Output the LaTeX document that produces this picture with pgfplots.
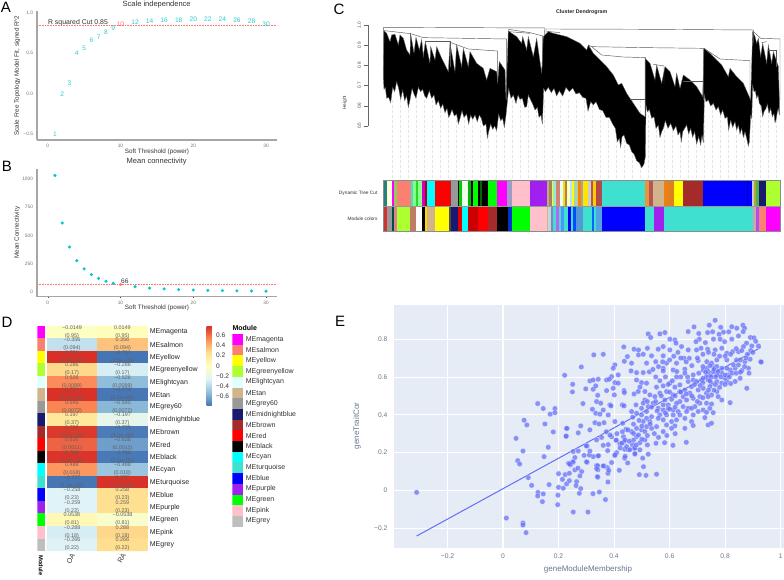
\documentclass[border=0pt]{standalone}
\usepackage{fontspec}
\setmainfont{Liberation Sans}
\usepackage{pgfplots}
\pgfplotsset{compat=1.18}
\pgfplotsset{/pgf/number format/assume math mode=true}
\newcommand{\fs}[1]{\fontsize{#1}{#1}\selectfont}
\definecolor{Mmagenta}{HTML}{FF00FF}\definecolor{Msalmon}{HTML}{FA8072}\definecolor{Myellow}{HTML}{FFFF00}
\definecolor{Mgreenyellow}{HTML}{ADFF2F}\definecolor{Mlightcyan}{HTML}{E0FFFF}\definecolor{Mtan}{HTML}{D2B48C}
\definecolor{Mgrey60}{HTML}{999999}\definecolor{Mmidnightblue}{HTML}{191970}\definecolor{Mbrown}{HTML}{A52A2A}
\definecolor{Mred}{HTML}{FF0000}\definecolor{Mblack}{HTML}{000000}\definecolor{Mcyan}{HTML}{00FFFF}
\definecolor{Mturquoise}{HTML}{40E0D0}\definecolor{Mblue}{HTML}{0000FF}\definecolor{Mpurple}{HTML}{A020F0}
\definecolor{Mgreen}{HTML}{00FF00}\definecolor{Mpink}{HTML}{FFC0CB}\definecolor{Mgrey}{HTML}{BEBEBE}
\definecolor{tealt}{HTML}{2ECBCB}\definecolor{tealm}{HTML}{00C8D0}\definecolor{redt}{HTML}{F8766D}
\definecolor{plotbg}{HTML}{E5ECF6}\definecolor{plotm}{HTML}{636EFA}\definecolor{plott}{HTML}{667790}
\pgfplotsset{
 ggstyle/.style={anchor=south west,scale only axis,width=240pt,
  axis x line*=bottom,axis y line*=left,axis line style={draw=black!35,line width=1.1pt,-},
  tick align=outside,major tick length=1.5pt,tick style={black!70,line width=.4pt},
  tick label style={font=\fs{4.8},text=black!55},
  xmin=-1.47,xmax=31.5,xtick={0,10,20,30},xticklabels={0,10,20,30},
  x tick label style={yshift=1pt},y tick label style={xshift=1pt}},
 numlab/.style={draw=none,mark=none,nodes near coords,point meta=explicit symbolic,
  every node near coord/.append style={anchor=center,inner sep=0pt,font=\fs{6.6},text=#1}}
}
\newcommand{\seg}[4]{\addplot[fill=#4,draw=none] coordinates {(#2,#1)(#3,#1)(#3,#1+1)(#2,#1+1)} -- cycle;}
\newcommand{\rr}[3]{\addplot[fill=#3,draw=none] coordinates {(0,#1)(1,#1)(1,#2)(0,#2)} -- cycle;}
\newcommand{\swatches}{%
\rr{0}{1}{Mmagenta}\rr{1}{2}{Msalmon}\rr{2}{3}{Myellow}\rr{3}{4}{Mgreenyellow}\rr{4}{5}{Mlightcyan}\rr{5}{6}{Mtan}%
\rr{6}{7}{Mgrey60}\rr{7}{8}{Mmidnightblue}\rr{8}{9}{Mbrown}\rr{9}{10}{Mred}\rr{10}{11}{Mblack}\rr{11}{12}{Mcyan}%
\rr{12}{13}{Mturquoise}\rr{13}{14}{Mblue}\rr{14}{15}{Mpurple}\rr{15}{16}{Mgreen}\rr{16}{17}{Mpink}\rr{17}{18}{Mgrey}}
\begin{document}
\begin{tikzpicture}[x=1pt,y=1pt]
\path[use as bounding box,fill=white] (0,0) rectangle (784,580);
% ---------- letters
\foreach \l/\a/\b in {A/6/572.5,B/7/413.5,C/339/571,D/7/257.5,E/340/258.5}
  \node[font=\fs{15}] at (\a,\b) {\l};
% ---------- A
\begin{axis}[ggstyle,at={(37pt,440pt)},height=129pt,ymin=-0.578,ymax=1.027,
  ytick={-0.5,0,0.5,1},yticklabels={−0.5,0.0,0.5,1.0},clip=false]
\addplot[redt,densely dotted,line width=.6pt,forget plot] coordinates {(-1.47,0.85)(31.5,0.85)};
\addplot[numlab=tealt] table[meta=t] {
x y t
1 -0.507 1
2 -0.012 2
3 0.133 3
4 0.496 4
5 0.558 5
6 0.665 6
7 0.70 7
8 0.765 8
9 0.817 9
12 0.892 12
14 0.90 14
16 0.917 16
18 0.917 18
20 0.93 20
22 0.92 22
24 0.92 24
26 0.91 26
28 0.905 28
30 0.864 30
};
\addplot[numlab=redt] table[meta=t] {
x y t
10 0.867 10
};
\end{axis}
\node[font=\fs{7.5},text=black!80] at (156.7,575) {Scale independence};
\node[font=\fs{6.3},text=black!80,rotate=90] at (17.3,504.5) {Scale Free Topology Model Fit, signed R\textasciicircum 2};
\node[font=\fs{6.3},text=black!80] at (157,428) {Soft Threshold (power)};
\node[font=\fs{6.9},text=black!80] at (78,557.3) {R squared Cut 0.85};
% ---------- B
\begin{axis}[ggstyle,at={(37pt,283.3pt)},height=127.4pt,ymin=-41.6,ymax=1086,
  ytick={0,250,500,750,1000},yticklabels={0,250,500,750,1000}]
\addplot[redt,densely dotted,line width=.6pt,forget plot] coordinates {(-1.47,66)(31.5,66)};
\addplot[only marks,mark=*,mark size=1.35pt,mark options={fill=tealm,draw=tealm}] coordinates {
(1,1032)(2,610)(3,398)(4,277)(5,204)(6,153)(7,121)(8,95)(9,77)(12,47)(14,35)(16,27)(18,21)(20,17)(22,14)(24,12)(26,10)(28,9)(30,7)};
\addplot[only marks,mark=*,mark size=1.35pt,mark options={fill=redt,draw=redt}] coordinates {(10,66)};
\node[font=\fs{6.6},text=black!80] at (axis cs:10.6,91) {66};
\end{axis}
\node[font=\fs{7.5},text=black!80] at (156.7,418) {Mean connectivity};
\node[font=\fs{6.3},text=black!80,rotate=90] at (17.3,347.3) {Mean Connectivity};
\node[font=\fs{6.3},text=black!80] at (157,272.3) {Soft Threshold (power)};
% ---------- C dendrogram (drawn on the height axis)
\begin{axis}[anchor=south west,at={(368.33pt,400pt)},scale only axis,width=415.67pt,height=158.7pt,
  xmin=85,xmax=1332,ymin=0.23,ymax=1.02,y filter/.expression={1-(y-76)/602.4},
  separate axis lines,x axis line style={draw=none},y axis line style={draw=none},
  xtick=\empty,ytick={0.5,0.6,0.7,0.8,0.9,1},yticklabels={0.5,0.6,0.7,0.8,0.9,1.0},
  ytick pos=left,tick align=outside,major tick length=4pt,tick style={black!60,line width=.3pt},
  yticklabel style={rotate=90,anchor=south,font=\fs{4.6},text=black!70,yshift=0pt},clip=false]
\addplot[black!60,line width=.3pt,forget plot] coordinates {(85,76)(85,377)};
\pgfplotsinvokeforeach{155,179,203,227,251,275,299,323,347,371,395,419,443,467,491,515,539,563,588,612,636,660,684,708,732,756,780,804,828,852,876,900,924,948,972,996,1020,1044,1068,1092,1116,1140,1165,1189,1213,1237,1261,1285,1309}{
 \addplot[black!11,densely dashed,line width=.3pt,forget plot] coordinates {(#1,300)(#1,538)};
}
\addplot[fill=black,draw=black!60,line width=.35pt,forget plot] coordinates {
(132,92)(140,100)(150,125)(155,105)(165,103)(175,135)(180,105)(190,115)(200,150)(210,165)(212,102)(222,160)(228,112)(238,150)(245,118)(250,170)(256,125)(270,190)(272,140)(285,180)(290,140)(305,175)(325,215)(330,130)(345,215)(350,135)(365,200)(370,145)(385,200)(390,155)(410,190)(430,205)(440,240)(450,205)(470,215)(473,250)(478,185)(495,210)(498,300)
(505,92)(515,100)(530,110)(545,130)(548,110)(560,150)(565,110)(580,170)(590,115)(605,220)(610,110)(625,95)(640,100)(660,105)(680,110)(700,120)(720,130)(740,150)(745,135)(760,160)(775,175)(800,200)(820,225)(835,255)(845,250)(860,280)(880,310)(900,340)(915,350)(915,175)(930,190)(945,240)(950,195)(965,250)(975,200)(990,215)(1005,260)(1010,220)(1020,265)(1030,225)(1050,240)(1070,260)(1088,290)(1092,145)(1110,160)(1130,180)(1145,195)(1165,230)(1170,205)(1190,230)(1210,250)(1232,300)(1238,95)(1245,110)(1250,130)(1255,115)(1262,170)(1268,130)(1280,190)(1285,135)(1295,190)(1300,155)(1315,200)(1318,300)
(1318,345)(1315,325)(1312,335)(1308,360)(1305,368)(1302,340)(1297,350)(1292,325)(1287,340)(1282,312)(1278,325)(1272,335)(1268,350)(1264,318)(1258,310)(1254,285)(1250,295)(1246,272)(1242,275)(1238,255)(1235,355)(1232,345)(1228,425)(1225,438)(1220,415)(1215,395)(1210,412)(1205,385)(1200,402)(1195,375)(1190,390)(1185,365)(1178,382)(1172,360)(1166,390)(1162,350)(1155,355)(1148,330)(1142,345)(1135,320)(1128,330)(1120,310)(1112,318)(1105,300)(1098,305)(1093,285)(1090,428)(1086,405)(1082,435)(1076,410)(1070,432)(1064,395)(1058,412)(1052,385)(1046,402)(1040,375)(1034,385)(1028,395)(1024,425)(1020,395)(1014,405)(1008,378)(1000,392)(992,370)(984,385)(976,362)(970,385)(965,395)(960,412)(955,375)(948,385)(942,350)(935,355)(928,328)(922,335)(918,315)(916,470)(912,492)(905,503)(898,488)(890,482)(882,462)(875,455)(868,435)(860,430)(852,405)(846,410)(842,442)(838,415)(832,425)(826,385)(818,372)(808,352)(798,352)(788,332)(778,328)(768,305)(760,315)(752,305)(748,320)(744,333)(738,295)(728,292)(718,278)(708,282)(698,264)(688,275)(678,262)(668,288)(658,272)(650,288)(642,265)(634,278)(625,262)(616,275)(611,265)(607,372)(603,345)(597,352)(592,322)(585,330)(578,312)(571,298)(565,285)(560,320)(554,322)(547,295)(540,298)(534,285)(528,310)(520,285)(513,295)(506,265)(498,345)(493,382)(488,355)(482,362)(476,342)(470,392)(464,378)(458,388)(452,372)(446,395)(442,414)(438,372)(430,378)(424,355)(418,345)(412,365)(405,345)(398,358)(392,345)(386,372)(380,342)(372,352)(366,332)(360,355)(355,372)(350,342)(343,348)(336,328)(330,345)(326,352)(321,325)(315,338)(308,312)(302,325)(295,302)(288,315)(282,285)(275,295)(268,272)(260,295)(254,288)(248,268)(242,275)(235,262)(228,295)(222,282)(216,265)(210,300)(205,322)(200,288)(194,302)(188,270)(182,298)(176,265)(170,245)(164,275)(158,262)(152,308)(146,292)(140,295)(136,262)(132,268)(130,230)
} -- cycle;
\addplot[black!65,line width=.45pt,forget plot] coordinates {(130,230)(131,82)(615,84)(612,110)};
\addplot[black!65,line width=.45pt,forget plot] coordinates {(133,92)(212,101)(212,130)};
\addplot[black!65,line width=.45pt,forget plot] coordinates {(212,101)(250,113)(500,117)(500,300)};
\addplot[black!65,line width=.45pt,forget plot] coordinates {(255,125)(330,125)(330,200)};
\addplot[black!65,line width=.45pt,forget plot] coordinates {(330,127)(385,147)(472,153)(472,240)};
\addplot[black!65,line width=.45pt,forget plot] coordinates {(505,88)(570,98)(608,108)(608,200)};
\addplot[black!65,line width=.45pt,forget plot] coordinates {(505,95)(570,100)};
\addplot[black!65,line width=.45pt,forget plot] coordinates {(618,100)(618,87)(930,88)(1240,90)(1240,130)};
\addplot[black!65,line width=.45pt,forget plot] coordinates {(620,94)(660,98)};
\addplot[black!65,line width=.45pt,forget plot] coordinates {(745,135)(755,140)(920,143)(1090,145)(1090,300)};
\addplot[black!65,line width=.45pt,forget plot] coordinates {(755,140)(785,165)(850,171)(917,173)(917,350)};
\addplot[black!65,line width=.45pt,forget plot] coordinates {(870,298)(915,298)};
\addplot[black!65,line width=.45pt,forget plot] coordinates {(1030,243)(1090,243)};
\addplot[black!65,line width=.45pt,forget plot] coordinates {(940,193)(972,198)(972,250)};
\addplot[black!65,line width=.45pt,forget plot] coordinates {(1092,145)(1140,177)(1230,182)(1230,300)};
\addplot[black!65,line width=.45pt,forget plot] coordinates {(1240,95)(1262,115)(1320,117)(1320,300)};
\addplot[black!65,line width=.45pt,forget plot] coordinates {(1265,128)(1280,125)};
\addplot[black!65,line width=.45pt,forget plot] coordinates {(1285,152)(1310,152)(1310,200)};
\end{axis}
\node[font=\bfseries\fs{5.3},text=black!85] at (581.7,568.3) {Cluster Dendrogram};
\node[font=\fs{4.8},text=black!75,rotate=90] at (345,477.3) {Height};
% ---------- C colour strips
\begin{axis}[anchor=south west,at={(383.3pt,348.3pt)},scale only axis,width=397.4pt,height=51.7pt,
  xmin=130,xmax=1322,ymin=0,ymax=2,xtick=\empty,ytick=\empty,axis on top,
  axis line style={draw=black!45,line width=.5pt}]
% top row: Dynamic Tree Cut
\seg{1}{130}{140}{teal!70!gray}\seg{1}{140}{156}{Myellow!15}\seg{1}{156}{162}{Mmagenta}\seg{1}{162}{172}{Mtan!70!green}
\seg{1}{172}{212}{Msalmon}\seg{1}{212}{220}{Mturquoise}\seg{1}{220}{228}{green!50}\seg{1}{228}{235}{Mgreen!70!gray}\seg{1}{235}{245}{green!45}
\seg{1}{245}{255}{Mmagenta!80!black}\seg{1}{255}{262}{Mred!70!black}\seg{1}{262}{285}{Mcyan}\seg{1}{285}{330}{Mred}\seg{1}{330}{332}{Mbrown}
\seg{1}{332}{354}{Mgrey60}\seg{1}{354}{358}{Mblack}\seg{1}{358}{365}{Mgreen!80!black}\seg{1}{365}{385}{green!8}\seg{1}{385}{392}{Mgreen!70!black}
\seg{1}{392}{398}{Mblack}\seg{1}{398}{414}{Mgreen}\seg{1}{414}{420}{Mblack}\seg{1}{420}{425}{green!40!black}\seg{1}{425}{444}{Mblack}
\seg{1}{444}{472}{Mgreen}\seg{1}{472}{502}{Mmagenta}\seg{1}{502}{516}{gray!70!blue!60}\seg{1}{516}{570}{Mpink}\seg{1}{570}{620}{Mpurple}
\seg{1}{620}{628}{Mtan!80!gray}\seg{1}{628}{635}{brown!70!gray}\seg{1}{635}{640}{Myellow}\seg{1}{640}{648}{Mturquoise!60}\seg{1}{648}{660}{Msalmon!70!gray}
\seg{1}{660}{668}{Mlightcyan}\seg{1}{668}{675}{Myellow!70!orange}\seg{1}{675}{680}{brown!70!gray}\seg{1}{680}{690}{Myellow!25}\seg{1}{690}{697}{cyan!30}
\seg{1}{697}{703}{Myellow}\seg{1}{703}{715}{green!30!gray!50}\seg{1}{715}{722}{orange}\seg{1}{722}{730}{gray!70}\seg{1}{730}{745}{Myellow!80!orange}
\seg{1}{745}{752}{gray!40}\seg{1}{752}{758}{Mbrown!80}\seg{1}{758}{768}{Myellow!60!orange}\seg{1}{768}{785}{Mbrown!85}
\seg{1}{785}{916}{Mturquoise}\seg{1}{916}{928}{orange!60!Mtan}\seg{1}{928}{940}{Mbrown!80}\seg{1}{940}{973}{Mtan}\seg{1}{973}{985}{orange!70!brown}
\seg{1}{985}{1002}{orange!50!brown}\seg{1}{1002}{1028}{Myellow}\seg{1}{1028}{1090}{Mbrown}\seg{1}{1090}{1220}{Mblue}\seg{1}{1220}{1225}{Mblue!70!black}
\seg{1}{1225}{1236}{Mblue}\seg{1}{1236}{1241}{gray!40}\seg{1}{1241}{1248}{olive!70}\seg{1}{1248}{1258}{gray!60!green}\seg{1}{1258}{1279}{Mmidnightblue}\seg{1}{1279}{1322}{Mgreenyellow}
% bottom row: Module colors
\seg{0}{130}{140}{Mred!60!gray}\seg{0}{140}{156}{Mgrey60}\seg{0}{156}{162}{teal!60!black}\seg{0}{162}{172}{Mpink!60!Mbrown}\seg{0}{172}{210}{Mgreenyellow}
\seg{0}{210}{228}{Mbrown!40!Mtan}\seg{0}{228}{245}{white}\seg{0}{245}{255}{Mblack}\seg{0}{255}{262}{Myellow!70!orange}\seg{0}{262}{284}{Mtan}\seg{0}{284}{328}{Myellow}
\seg{0}{328}{332}{Mblack!70}\seg{0}{332}{354}{Mmidnightblue}\seg{0}{354}{365}{Mred!90!black}\seg{0}{365}{385}{Mcyan}\seg{0}{385}{414}{Mred!80!black}\seg{0}{414}{444}{Mred}
\seg{0}{444}{471}{Mbrown}\seg{0}{471}{503}{Mblack}\seg{0}{503}{516}{Mblue!60!teal}\seg{0}{516}{570}{Mgreen}\seg{0}{570}{620}{Mpink}
\seg{0}{620}{625}{Mtan}\seg{0}{625}{632}{Mlightcyan!70!gray}\seg{0}{632}{640}{blue!40!gray!70}\seg{0}{640}{648}{Mturquoise}\seg{0}{648}{657}{Mpurple!70}\seg{0}{657}{663}{Mturquoise}
\seg{0}{663}{672}{blue!60!cyan!70}\seg{0}{672}{684}{Mturquoise}\seg{0}{684}{694}{Mblue}\seg{0}{694}{700}{Mturquoise}\seg{0}{700}{708}{blue!70!cyan}\seg{0}{708}{730}{cyan!60!blue!70}
\seg{0}{730}{755}{Mturquoise}\seg{0}{755}{762}{blue!60!cyan}\seg{0}{762}{768}{Mturquoise}\seg{0}{768}{785}{cyan!70!blue!70}\seg{0}{785}{916}{Mblue}\seg{0}{916}{941}{Mturquoise}
\seg{0}{941}{972}{Mpurple}\seg{0}{972}{1240}{Mturquoise}\seg{0}{1240}{1248}{Mpink!60!gray}\seg{0}{1248}{1257}{Mpurple!80}\seg{0}{1257}{1279}{Msalmon}\seg{0}{1279}{1322}{Mmagenta}
\addplot[black!40,line width=.5pt] coordinates {(130,1)(1322,1)};
\end{axis}
\node[font=\fs{4.8},text=black!80,anchor=east] at (381,386.7) {Dynamic Tree Cut};
\node[font=\fs{4.8},text=black!80,anchor=east] at (381,361) {Module colors};
% ---------- D annotation strip
\begin{axis}[anchor=south west,at={(37.3pt,29pt)},scale only axis,width=7.7pt,height=225pt,
  xmin=0,xmax=1,ymin=0,ymax=18,y dir=reverse,axis line style={draw=none},xtick=\empty,ytick=\empty]
\swatches
\end{axis}
% ---------- D heat map
\begin{axis}[anchor=south west,at={(46.7pt,29pt)},scale only axis,width=101pt,height=225pt,
  xmin=-0.5,xmax=1.5,ymin=-0.5,ymax=17.5,y dir=reverse,axis line style={draw=none},xtick=\empty,ytick=\empty,
  colormap={rb}{rgb255(0cm)=(69,117,180);rgb255(1cm)=(145,191,219);rgb255(2cm)=(224,243,248);rgb255(3cm)=(255,255,191);rgb255(4cm)=(254,224,144);rgb255(5cm)=(252,141,89);rgb255(6cm)=(215,48,39)},
  point meta min=-0.78,point meta max=0.78,
  colorbar,colorbar style={at={(1.584,1)},anchor=north west,scale only axis,width=5.3pt,height=79.7pt,
    y dir=normal,ymin=-0.78,ymax=0.78,ytick={-0.6,-0.4,-0.2,0,0.2,0.4,0.6},yticklabels={−0.6,−0.4,−0.2,0,0.2,0.4,0.6},
    major tick length=0pt,axis line style={draw=none},yticklabel style={font=\fs{6.6},text=black!80,xshift=0.5pt}},clip=false]
\addplot[matrix plot*,mesh/cols=2,point meta=explicit] table[meta=m] {
x y m
0 0 -0.0149
1 0 0.0149
0 1 -0.356
1 1 0.356
0 2 0.781
1 2 -0.781
0 3 0.286
1 3 -0.286
0 4 0.526
1 4 -0.526
0 5 0.774
1 5 -0.774
0 6 0.545
1 6 -0.545
0 7 0.197
1 7 -0.197
0 8 0.755
1 8 -0.755
0 9 0.636
1 9 -0.636
0 10 0.766
1 10 -0.766
0 11 0.488
1 11 -0.488
0 12 -0.777
1 12 0.777
0 13 -0.258
1 13 0.258
0 14 -0.259
1 14 0.259
0 15 0.0538
1 15 -0.0538
0 16 -0.288
1 16 0.288
0 17 -0.266
1 17 0.266
};
\addplot[draw=none,mark=none,nodes near coords,point meta=explicit symbolic,
  every node near coord/.append style={anchor=center,inner sep=0pt,font=\fs{5.4},text=black!62}] table[meta=t] {
x y t
0 -0.4 −0.0149
0 0.3 (0.95)
1 -0.4 0.0149
1 0.3 (0.95)
0 0.6 −0.356
0 1.3 (0.094)
1 0.6 0.356
1 1.3 (0.094)
0 1.6 0.781
0 2.3 (2.5e−05)
1 1.6 −0.781
1 2.3 (2.5e−05)
0 2.6 0.286
0 3.3 (0.17)
1 2.6 −0.286
1 3.3 (0.17)
0 3.6 0.526
0 4.3 (0.0099)
1 3.6 −0.526
1 4.3 (0.0099)
0 4.6 0.774
0 5.3 (1.5e−05)
1 4.6 −0.774
1 5.3 (1.5e−05)
0 5.6 0.545
0 6.3 (0.0072)
1 5.6 −0.545
1 6.3 (0.0072)
0 6.6 0.197
0 7.3 (0.37)
1 6.6 −0.197
1 7.3 (0.37)
0 7.6 0.755
0 8.3 (3.2e−05)
1 7.6 −0.755
1 8.3 (3.2e−05)
0 8.6 0.636
0 9.3 (0.0011)
1 8.6 −0.636
1 9.3 (0.0011)
0 9.6 0.766
0 10.3 (2.1e−05)
1 9.6 −0.766
1 10.3 (2.1e−05)
0 10.6 0.488
0 11.3 (0.018)
1 10.6 −0.488
1 11.3 (0.018)
0 11.6 −0.777
0 12.3 (1.2e−05)
1 11.6 0.777
1 12.3 (1.2e−05)
0 12.6 −0.258
0 13.3 (0.23)
1 12.6 0.258
1 13.3 (0.23)
0 13.6 −0.259
0 14.3 (0.23)
1 13.6 0.259
1 14.3 (0.23)
0 14.6 0.0538
0 15.3 (0.81)
1 14.6 −0.0538
1 15.3 (0.81)
0 15.6 −0.288
0 16.3 (0.18)
1 15.6 0.288
1 16.3 (0.18)
0 16.6 −0.266
0 17.3 (0.22)
1 16.6 0.266
1 17.3 (0.22)
};
\end{axis}
\foreach \n [count=\i] in {magenta,salmon,yellow,greenyellow,lightcyan,tan,grey60,midnightblue,brown,red,black,cyan,turquoise,blue,purple,green,pink,grey}{
  \node[font=\fs{7},text=black!85,anchor=west,inner sep=0pt] at (149.7,{254-12.5*(\i-0.5)}) {ME\n};
  \node[font=\fs{7},text=black!80,anchor=west,inner sep=0pt] at (245.7,{246-10.7*(\i-0.5)}) {ME\n};
}
\node[font=\bfseries\fs{7},anchor=west,inner sep=0pt] at (232.3,251.7) {Module};
\node[font=\bfseries\fs{5.8},rotate=-90,anchor=west,inner sep=0pt] at (41,25) {Module};
\node[font=\fs{7},text=black!80,rotate=60] at (70.7,21.5) {OA};
\node[font=\fs{7},text=black!80,rotate=60] at (121.7,21.5) {RA};
% ---------- D legend swatches
\begin{axis}[anchor=south west,at={(232.3pt,53.3pt)},scale only axis,width=11pt,height=192.7pt,
  xmin=0,xmax=1,ymin=0,ymax=18,y dir=reverse,axis line style={draw=none},xtick=\empty,ytick=\empty]
\swatches
\end{axis}
% ---------- E
\begin{axis}[anchor=south west,at={(394pt,31.7pt)},scale only axis,width=390pt,height=243.3pt,
  xmin=-0.3925,xmax=1.012,ymin=-0.307,ymax=0.981,
  axis background/.style={fill=plotbg},axis line style={draw=none},
  grid=major,grid style={white,line width=.6pt},major tick length=0pt,
  xtick={-0.2,0,0.2,0.4,0.6,0.8,1},xticklabels={−0.2,0,0.2,0.4,0.6,0.8,1},
  ytick={-0.2,0,0.2,0.4,0.6,0.8},yticklabels={−0.2,0,0.2,0.4,0.6,0.8},
  tick label style={font=\fs{6.7},text=plott},x tick label style={yshift=-2pt},y tick label style={xshift=-3pt},clip=false]
\addplot[white,line width=1pt,forget plot] coordinates {(-0.3925,0)(1.012,0)};
\addplot[white,line width=1pt,forget plot] coordinates {(0,-0.307)(0,0.981)};
\addplot[only marks,mark=*,mark size=2.75pt,mark options={fill=plotm,draw=white,fill opacity=.72,draw opacity=.6,line width=.3pt}] coordinates {
(.764,.900)(.688,.865)(.743,.874)(.667,.840)(.784,.863)(.824,.866)(.842,.858)(.864,.874)(.870,.858)(.865,.840)(.705,.830)(.737,.835)(.755,.839)(.778,.826)(.794,.837)(.813,.839)(.848,.817)(.824,.800)(.798,.787)(.782,.800)(.758,.800)(.729,.782)(.707,.800)(.695,.787)(.891,.809)(.904,.807)(.910,.789)(.877,.779)(.896,.764)(.920,.764)(.892,.740)(.866,.761)(.848,.734)(.827,.734)(.806,.726)(.788,.752)(.764,.743)(.737,.747)(.713,.752)(.697,.743)(.667,.743)(.643,.761)(.619,.796)(.601,.800)(.583,.835)(.565,.828)(.523,.828)(.532,.809)(.623,.779)(.577,.761)(.559,.747)(.520,.752)(.472,.747)(.488,.743)(.435,.759)(.361,.720)(.327,.717)(.448,.708)(.488,.717)(.505,.720)(.535,.712)(.577,.712)(.601,.743)(.652,.699)(.671,.699)(.703,.687)(.734,.681)(.928,.681)(.930,.679)(.890,.694)(.871,.681)(.841,.690)(.806,.690)(.770,.690)(.437,.683)(.403,.664)(.397,.646)(.463,.673)(.517,.673)(.550,.681)(.589,.673)(.625,.673)(.577,.646)(.613,.637)(.282,.653)(.222,.609)(.415,.611)(.461,.632)(.481,.623)(.505,.623)(.527,.627)(.577,.632)(.626,.629)(.655,.641)(.685,.611)(.721,.637)(.745,.611)(.775,.611)(.811,.611)(.836,.646)(.860,.634)(.884,.646)(.886,.620)(.878,.540)(.818,.464)(.391,.602)(.313,.579)(.325,.584)(.343,.588)(.373,.584)(.383,.588)(.403,.570)(.415,.567)(.251,.561)(.250,.521)(.298,.537)(.325,.535)(.334,.553)(.373,.528)(.397,.540)(.436,.528)(.437,.517)(.401,.505)(.341,.503)(.337,.470)(.352,.461)(.385,.452)(.389,.447)(.288,.459)(.322,.429)(.361,.425)(.379,.399)(.334,.408)(.349,.403)(.430,.452)(.436,.447)(.472,.510)(.125,.459)(.145,.433)(.187,.433)(.170,.403)(.187,.411)(.076,.371)(.086,.346)(.151,.351)(.181,.309)(.231,.327)(.280,.341)(.271,.304)(.313,.320)(.228,.288)(.047,.275)(.331,.358)(.346,.351)(.364,.358)(.403,.364)(.431,.355)(.443,.323)(.467,.387)(.479,.452)
(.481,.584)(.499,.570)(.517,.567)(.493,.546)(.511,.523)(.487,.523)(.529,.505)(.553,.546)(.577,.553)(.601,.567)(.619,.546)(.637,.558)(.667,.576)(.685,.584)(.715,.584)(.733,.602)(.757,.629)(.770,.611)(.788,.620)(.739,.584)(.751,.567)(.770,.576)(.788,.567)(.806,.576)(.836,.576)(.854,.593)(.800,.593)(.818,.637)(.788,.646)(.757,.655)(.733,.646)(.751,.673)(.770,.655)(.830,.664)(.848,.664)(.806,.646)(.739,.629)(.721,.593)(.697,.576)(.679,.549)(.655,.531)(.637,.523)(.613,.505)(.589,.523)(.565,.514)(.547,.496)(.583,.478)(.607,.482)(.649,.496)(.673,.514)(.703,.531)(.721,.540)(.745,.549)(.770,.523)(.733,.514)(.775,.496)(.751,.505)(.788,.478)(.739,.496)(.709,.496)(.685,.487)(.661,.478)(.637,.470)(.625,.461)(.595,.452)(.577,.452)(.559,.434)(.541,.461)(.511,.478)(.505,.461)(.523,.443)(.499,.434)(.517,.417)(.499,.399)(.481,.408)(.463,.417)(.577,.425)(.595,.434)(.613,.425)(.631,.417)(.649,.443)(.667,.434)(.691,.443)(.709,.461)(.733,.461)(.745,.434)(.721,.425)(.703,.417)(.679,.434)(.661,.417)(.637,.399)(.613,.399)(.589,.399)(.565,.399)(.535,.390)(.517,.381)(.505,.364)(.529,.364)(.559,.381)(.577,.373)(.607,.364)(.625,.373)(.655,.381)(.685,.399)(.727,.385)(.757,.411)(.733,.413)(.751,.457)(.679,.364)(.655,.328)(.619,.341)(.607,.328)(.589,.346)(.553,.337)(.535,.328)(.517,.337)(.499,.320)(.481,.328)(.463,.311)(.481,.284)(.511,.311)(.577,.311)(.685,.343)(.739,.346)(.751,.355)
(-.311,-.011)(.012,-.147)(.072,-.173)(.072,-.184)(.083,-.224)(.053,.157)(.060,.139)(.072,.208)(.091,.067)(.103,.026)(.126,-.011)(.125,-.030)(.145,-.019)(.142,-.060)(.166,.030)(.148,.178)(.163,.228)(.197,-.076)(.198,-.026)(.200,.016)(.217,.011)(.229,.034)(.239,.051)(.214,.058)(.200,.088)(.224,.083)(.239,.090)(.259,.108)(.283,.099)(.277,.076)(.265,.046)(.263,.025)(.280,.009)(.275,-.016)(.253,-.115)(.306,-.115)(.324,-.018)(.347,-.009)(.369,-.049)(.378,.044)(.342,.069)(.340,.072)(.378,.090)(.342,.109)(.376,.120)(.364,.129)(.337,.131)(.391,.147)(.419,.106)(.449,.145)(.438,.170)(.403,.184)(.409,.199)(.325,.178)(.341,.182)(.303,.148)(.236,.143)(.243,.134)(.253,.148)(.270,.117)(.259,.173)(.253,.205)(.271,.208)(.292,.185)(.311,.187)(.313,.208)(.303,.235)(.377,.210)(.379,.242)(.361,.238)(.438,.217)(.451,.215)(.475,.191)(.493,.214)(.523,.191)(.503,.170)(.506,.125)(.491,.083)(.515,.079)(.553,.085)(.473,.222)(.466,.242)(.493,.252)(.551,.249)(.582,.252)(.612,.238)(.660,.254)(.511,.267)(.436,.258)(.409,.263)(.421,.245)(.337,.267)
(.229,.328)(.227,.286)(.344,.183)(.300,.235)(.301,.151)(.251,.151)(.24,.14)(.341,.130)(.361,.129)(.337,.115)(.381,.105)(.355,.280)(.391,.284)(.385,.293)(.372,.310)(.407,.266)(.434,.284)(.428,.249)(.440,.266)(.470,.266)(.470,.301)(.488,.293)(.445,.231)(.457,.215)(.475,.224)(.422,.224)(.440,.180)(.475,.194)(.403,.187)
(.745,.66)(.76,.64)(.775,.63)(.785,.60)(.80,.61)(.815,.60)(.825,.62)(.84,.62)(.855,.625)(.87,.655)(.765,.60)(.75,.60)(.73,.625)(.72,.655)(.705,.62)(.72,.57)(.745,.58)(.765,.56)(.78,.545)(.80,.56)(.82,.565)(.76,.53)(.74,.53)(.71,.555)(.69,.56)(.665,.60)(.655,.62)(.64,.60)(.625,.60)(.61,.58)(.595,.56)(.585,.60)(.565,.58)(.55,.60)(.54,.64)(.56,.655)(.575,.68)(.60,.69)(.615,.71)(.63,.73)(.64,.70)(.66,.68)(.68,.66)(.70,.70)(.72,.72)(.74,.73)(.76,.72)(.78,.71)(.80,.71)(.82,.72)(.84,.75)(.86,.74)(.88,.72)(.90,.73)(.875,.70)(.855,.69)
(.60,.43)(.62,.44)(.585,.41)(.555,.42)(.535,.44)(.52,.47)(.55,.47)(.57,.50)(.60,.52)(.62,.50)(.64,.52)(.66,.51)(.68,.50)(.70,.47)(.72,.49)(.49,.37)(.47,.35)(.45,.32)(.50,.27)(.52,.29)(.545,.30)(.56,.28)(.59,.29)(.62,.30)(.48,.24)(.52,.24)(.455,.26)(.43,.31)(.41,.30)(.50,.34)(.53,.35)
};
\addplot[plotm,line width=1pt] coordinates {(-0.311,-0.242)(0.929,0.757)};
\end{axis}
\node[font=\fs{8},text=plott] at (588,10.5) {geneModuleMembership};
\node[font=\fs{8},text=plott,rotate=90] at (357,154) {geneTraitCor};
\end{tikzpicture}
\end{document}
